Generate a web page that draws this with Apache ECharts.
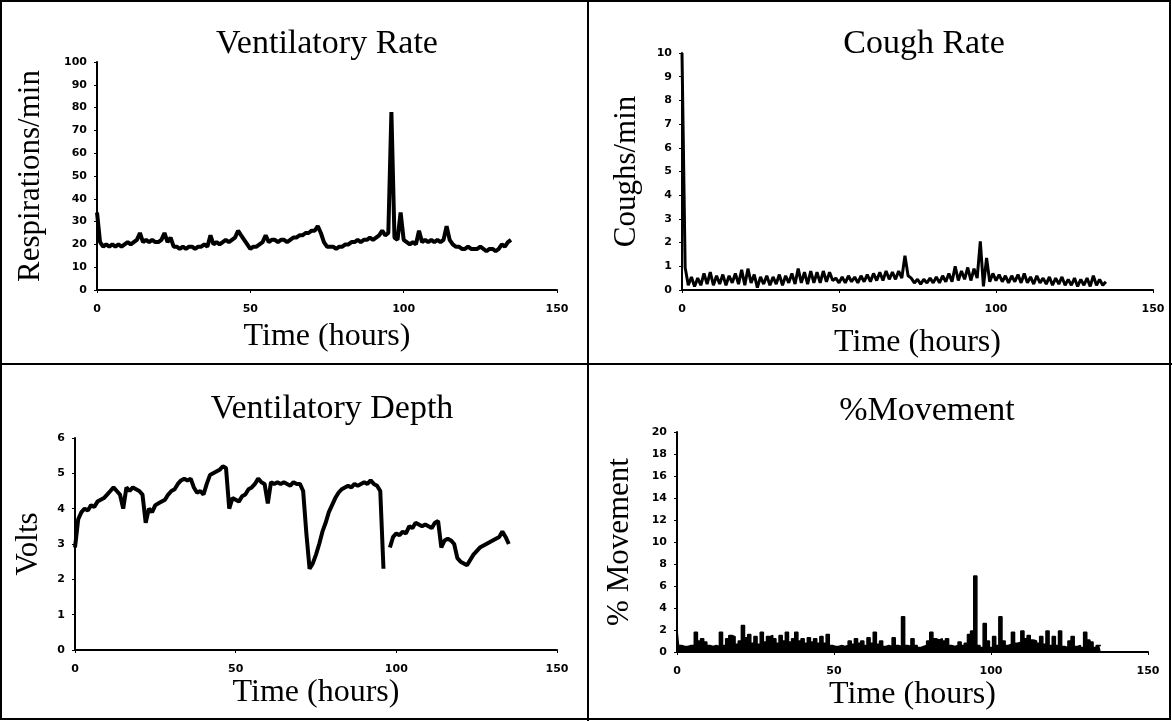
<!DOCTYPE html>
<html>
<head>
<meta charset="utf-8">
<script src="https://cdn.jsdelivr.net/npm/echarts@6/dist/echarts.min.js"></script>
<style>
  html, body { margin: 0; padding: 0; background: #fff; }
  #chart { width: 1172px; height: 721px; }
</style>
</head>
<body>
<div id="chart"></div>
<script>
// one value per hour, hour 0 .. 135
var rateValues = [34, 21, 19, 20, 19, 20, 19, 20, 19, 20, 21, 20, 21, 22, 25, 21, 22, 21, 22, 21,
	21, 22, 25, 21, 23, 19, 19, 18, 19, 18, 19, 19, 18, 19, 19, 20, 19, 24, 20, 21,
	20, 21, 22, 21, 22, 23, 26, 24, 22, 20, 18, 19, 19, 20, 21, 24, 21, 22, 22, 21,
	22, 22, 21, 22, 23, 23, 24, 24, 25, 25, 26, 26, 28, 25, 21, 19, 19, 19, 18, 19,
	19, 20, 20, 21, 21, 22, 21, 22, 22, 23, 22, 23, 24, 26, 24, 25, 78, 23, 22, 34,
	22, 21, 20, 21, 20, 26, 21, 22, 21, 22, 21, 22, 21, 22, 28, 22, 20, 19, 19, 18,
	18, 19, 18, 18, 18, 19, 18, 17, 18, 18, 17, 18, 20, 19, 21, 22];

var coughValues = [10, 0.95, 0.2, 0.55, 0.15, 0.5, 0.2, 0.7, 0.25, 0.75, 0.2, 0.6, 0.25, 0.65, 0.2, 0.6, 0.3, 0.7, 0.25, 0.85,
	0.2, 0.9, 0.3, 0.65, 0.1, 0.55, 0.25, 0.6, 0.2, 0.55, 0.25, 0.65, 0.2, 0.6, 0.3, 0.7, 0.25, 0.9, 0.3, 0.75,
	0.25, 0.8, 0.3, 0.75, 0.3, 0.8, 0.35, 0.75, 0.4, 0.5, 0.3, 0.55, 0.3, 0.6, 0.35, 0.55, 0.3, 0.6, 0.35, 0.65,
	0.35, 0.7, 0.4, 0.75, 0.4, 0.8, 0.45, 0.75, 0.45, 0.8, 0.5, 1.45, 0.6, 0.5, 0.3, 0.45, 0.25, 0.45, 0.3, 0.5,
	0.3, 0.55, 0.3, 0.6, 0.35, 0.7, 0.35, 1.0, 0.4, 0.8, 0.45, 0.95, 0.4, 0.9, 0.5, 2.05, 0.15, 1.35, 0.35, 0.7,
	0.4, 0.65, 0.35, 0.6, 0.3, 0.6, 0.35, 0.65, 0.3, 0.7, 0.3, 0.55, 0.25, 0.6, 0.3, 0.5, 0.25, 0.55, 0.2, 0.5,
	0.25, 0.55, 0.2, 0.45, 0.2, 0.5, 0.15, 0.45, 0.2, 0.5, 0.15, 0.6, 0.2, 0.45, 0.2, 0.35];

var depthValues = [2.9, 3.7, 3.9, 4.0, 3.95, 4.1, 4.05, 4.2, 4.25, 4.3, 4.4, 4.5, 4.6, 4.5, 4.4, 4.0, 4.6, 4.5, 4.6, 4.55,
	4.5, 4.4, 3.6, 4.0, 3.9, 4.1, 4.15, 4.2, 4.25, 4.4, 4.5, 4.55, 4.7, 4.8, 4.85, 4.8, 4.85, 4.6, 4.45, 4.5,
	4.4, 4.7, 4.95, 5.0, 5.05, 5.1, 5.2, 5.15, 4.0, 4.3, 4.25, 4.2, 4.35, 4.4, 4.55, 4.6, 4.7, 4.85, 4.75, 4.7,
	4.15, 4.75, 4.7, 4.75, 4.7, 4.75, 4.7, 4.65, 4.75, 4.7, 4.7, 4.5, 3.3, 2.3, 2.45, 2.7, 3.0, 3.35, 3.6, 3.9,
	4.1, 4.3, 4.45, 4.55, 4.6, 4.65, 4.6, 4.7, 4.65, 4.7, 4.75, 4.7, 4.8, 4.7, 4.65, 4.5, 2.3, null, 2.9, 3.2,
	3.3, 3.25, 3.35, 3.3, 3.5, 3.45, 3.6, 3.55, 3.5, 3.55, 3.5, 3.45, 3.6, 3.65, 2.9, 3.1, 3.15, 3.1, 3.0, 2.6,
	2.5, 2.45, 2.4, 2.55, 2.7, 2.8, 2.9, 2.95, 3.0, 3.05, 3.1, 3.15, 3.2, 3.35, 3.2, 3.0];

var movementValues = [2.0, 0.6, 0.5, 0.5, 0.6, 0.6, 1.8, 1.0, 1.2, 0.9, 0.6, 0.5, 0.6, 0.5, 1.8, 0.6, 1.2, 1.5, 1.4, 0.7,
	1.0, 2.4, 1.3, 1.6, 0.8, 1.4, 0.7, 1.8, 0.9, 1.4, 1.5, 1.2, 0.8, 1.5, 1.0, 1.8, 0.9, 1.2, 1.8, 1.0,
	1.2, 0.8, 1.3, 0.9, 1.2, 0.8, 1.4, 0.8, 1.6, 0.6, 0.5, 0.5, 0.6, 0.5, 0.6, 1.0, 0.7, 1.2, 0.8, 1.0,
	0.6, 1.3, 0.8, 1.8, 0.7, 1.0, 0.5, 0.6, 0.5, 1.3, 0.6, 0.5, 3.2, 0.6, 0.5, 1.2, 0.6, 0.4, 0.5, 0.6,
	1.0, 1.8, 1.2, 1.1, 1.2, 1.0, 1.2, 0.6, 0.5, 0.6, 0.9, 0.6, 0.8, 1.6, 1.9, 6.9, 0.6, 0.4, 2.6, 1.0,
	0.4, 1.4, 0.6, 3.2, 1.0, 0.6, 0.7, 1.8, 0.8, 0.9, 1.9, 1.2, 1.5, 1.1, 1.0, 0.8, 1.4, 0.7, 1.9, 0.6,
	1.4, 0.6, 1.9, 0.5, 0.4, 1.0, 1.4, 0.5, 0.6, 0.4, 1.8, 1.1, 0.9, 0.4, 0.6, 0.6];

var panelTitles = ['Ventilatory Rate', 'Cough Rate', 'Ventilatory Depth', '%Movement'];
var yNames = ['Respirations/min', 'Coughs/min', 'Volts', '% Movement'];
var yMax = [100, 10, 6, 20];
var yStep = [10, 1, 1, 2];
var xName = 'Time (hours)';

var myChart = echarts.init(document.getElementById('chart'));

// 每个小图的位置
var grids = [
	{ left: 97, top: 62, width: 460, height: 228 },
	{ left: 682, top: 53, width: 471, height: 237 },
	{ left: 75, top: 438, width: 482, height: 212 },
	{ left: 677, top: 432, width: 471, height: 220 }
];
var titlePos = [[322, 22], [919, 22], [327, 387], [922, 389]];
var xGaps = [31, 37, 27, 27];
var yGaps = [51, 40, 31, 42];

var serif = '"Liberation Serif", "Times New Roman", serif';
var tickFont = { fontFamily: '"DejaVu Sans", sans-serif', fontWeight: 'bold', fontSize: 11, color: '#000' };

function pairs(values) {
	var out = [];
	for (var i = 0; i < values.length; ++i) {
		out.push([i, values[i]]);
	}
	return out;
}

var option = {
	animation: false,
	backgroundColor: '#fff',
	title: [],
	grid: grids,
	xAxis: [],
	yAxis: [],
	series: [],
	graphic: [
		{ type: 'rect', shape: { x: 1, y: 1, width: 1169, height: 718 }, style: { fill: 'none', stroke: '#000', lineWidth: 2 } },
		{ type: 'line', shape: { x1: 588, y1: 0, x2: 588, y2: 721 }, style: { stroke: '#000', lineWidth: 2 } },
		{ type: 'line', shape: { x1: 0, y1: 364, x2: 1172, y2: 364 }, style: { stroke: '#000', lineWidth: 2 } }
	]
};

for (var i = 0; i < 4; ++i) {
	option.title.push({
		text: panelTitles[i],
		left: titlePos[i][0],
		top: titlePos[i][1],
		textAlign: 'center',
		textStyle: { fontFamily: serif, fontSize: 34, fontWeight: 'normal', color: '#000' }
	});
	option.xAxis.push({
		type: 'value',
		gridIndex: i,
		min: 0,
		max: 150,
		interval: 50,
		name: xName,
		nameLocation: 'middle',
		nameGap: xGaps[i],
		nameTextStyle: { fontFamily: serif, fontSize: 32, color: '#000' },
		axisLine: { lineStyle: { color: '#000', width: 2 } },
		axisTick: { show: true, length: 3, lineStyle: { color: '#000' } },
		axisLabel: Object.assign({ margin: 14 }, tickFont),
		splitLine: { show: false }
	});
	option.yAxis.push({
		type: 'value',
		gridIndex: i,
		min: 0,
		max: yMax[i],
		interval: yStep[i],
		name: yNames[i],
		nameLocation: 'middle',
		nameGap: yGaps[i],
		nameRotate: 90,
		nameTextStyle: { fontFamily: serif, fontSize: 31, color: '#000' },
		axisLine: { show: true, lineStyle: { color: '#000', width: 2 } },
		axisTick: { show: true, length: 3, lineStyle: { color: '#000' } },
		axisLabel: Object.assign({ margin: 10 }, tickFont),
		splitLine: { show: false }
	});
}

option.series.push({
	type: 'line', xAxisIndex: 0, yAxisIndex: 0, data: pairs(rateValues),
	symbol: 'none', lineStyle: { color: '#000', width: 4 }
});
option.series.push({
	type: 'line', xAxisIndex: 1, yAxisIndex: 1, data: pairs(coughValues),
	symbol: 'none', lineStyle: { color: '#000', width: 3 }
});
option.series.push({
	type: 'line', xAxisIndex: 2, yAxisIndex: 2, data: pairs(depthValues),
	symbol: 'none', connectNulls: false, lineStyle: { color: '#000', width: 4 }
});
// %Movement: filled steps, one per hour
option.series.push({
	type: 'line', xAxisIndex: 3, yAxisIndex: 3, data: pairs(movementValues),
	step: 'middle', symbol: 'none',
	lineStyle: { color: '#000', width: 1.5 },
	areaStyle: { color: '#000', opacity: 1 }
});

myChart.setOption(option);
</script>
</body>
</html>
